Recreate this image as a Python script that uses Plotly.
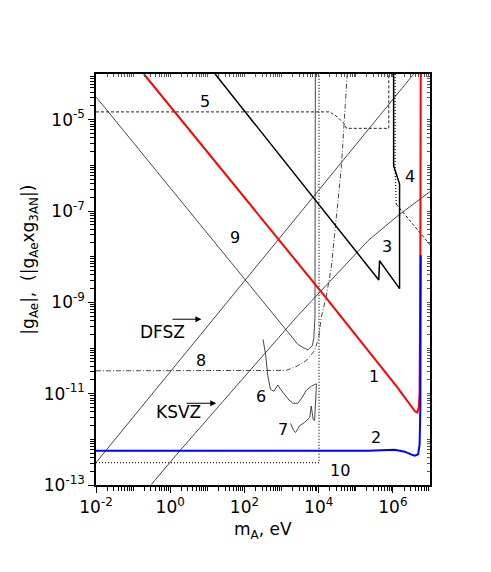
import numpy as np
import plotly.graph_objects as go

# all curve data below are log10 values: log10(m_A / eV) and log10(|g|)

# 1 - red
c1_m = [-0.71, 4.19, 6.09, 6.32, 6.49, 6.60, 6.66, 6.70, 6.72, 6.73, 6.74, 6.75]
c1_g = [-4.0, -8.89, -10.83, -11.08, -11.28, -11.39, -11.41, -11.30, -10.97, -10.21, -8.02, -4.0]
# 2 - blue
c2_m = [-2.0, 5.33, 6.05, 6.32, 6.49, 6.59, 6.68, 6.72, 6.74, 6.75]
c2_g = [-12.25, -12.25, -12.23, -12.27, -12.33, -12.36, -12.33, -12.11, -11.30, -7.97]
# 3 - thick black
c3_m = [1.21, 5.62, 5.64, 6.18, 6.18, 6.02, 6.02]
c3_g = [-4.0, -8.51, -8.09, -8.70, -6.41, -6.01, -4.0]
# 4 - dotted / dashed
c4_m = [6.06, 6.06, 6.09]
c4_g = [-4.0, -6.05, -6.85]
c4b_m = [6.09, 7.02]
c4b_g = [-6.85, -7.76]
# 5 - dashed
c5_m = [-2.0, 4.30, 4.52, 4.70, 4.75, 5.89, 5.89]
c5_g = [-4.83, -4.83, -4.95, -5.10, -5.19, -5.19, -4.0]
# 6
c6_m = [2.50, 2.57, 2.63, 2.70, 2.79, 2.86, 2.90, 2.97, 3.11, 3.20, 3.31, 3.44, 3.56, 3.67, 3.80, 3.94]
c6_g = [-9.81, -10.14, -10.61, -10.90, -10.95, -10.86, -10.81, -10.90, -11.05, -11.14, -11.21,
        -11.21, -11.08, -10.92, -10.84, -10.78]
# 7
c7_m = [3.24, 3.33, 3.38, 3.49, 3.62, 3.76, 3.80, 3.85, 3.89, 3.94]
c7_g = [-11.65, -11.81, -11.85, -11.70, -11.63, -11.52, -11.27, -11.56, -11.59, -10.79]
# 8 - dash-dot
c8_m = [-2.0, 3.12, 3.39, 3.66, 3.89, 4.00, 4.07, 4.20, 4.34, 4.47, 4.61, 4.77]
c8_g = [-10.50, -10.49, -10.41, -10.28, -10.06, -9.77, -9.33, -8.89, -8.24, -7.14, -6.05, -4.0]
# 9
c9_m = [-1.99, 3.13, 3.44, 3.58, 3.71, 3.83, 3.87, 3.90, 3.91]
c9_g = [-4.51, -9.62, -9.92, -9.99, -10.04, -9.95, -9.77, -9.33, -4.0]
# 10 - dotted
c10_m = [-2.0, 4.01, 4.01]
c10_g = [-12.51, -12.51, -4.0]
# DFSZ and KSVZ model lines
dfsz_m = [-2.0, 6.56]
dfsz_g = [-12.51, -4.0]
ksvz_m = [-0.51, 0.26, 3.44, 5.33, 6.14, 7.01]
ksvz_g = [-12.99, -12.25, -9.29, -7.65, -7.10, -6.57]

# curve number labels: text, log m, log g
labels = ["1", "2", "3", "4", "5", "6", "7", "8", "9", "10"]
label_m = [5.49, 5.55, 5.85, 6.47, 0.95, 2.45, 3.04, 0.84, 1.74, 4.57]
label_g = [-10.62, -11.97, -7.78, -6.24, -4.61, -11.06, -11.78, -10.27, -7.58, -12.68]

x_ticks = [-2, 0, 2, 4, 6]
y_ticks = [-13, -11, -9, -7, -5]

FONT = "DejaVu Sans, Verdana, sans-serif"

fig = go.Figure()


def add_curve(m, g, color="black", width=1.0, dash="solid"):
    fig.add_trace(
        go.Scatter(
            x=10 ** np.array(m, dtype=float),
            y=10 ** np.array(g, dtype=float),
            mode="lines",
            line=dict(color=color, width=width, dash=dash),
            showlegend=False,
            hoverinfo="skip",
        )
    )


thin = "#333333"
add_curve(c10_m, c10_g, "#222222", 1.3, "1px,2px")
add_curve(dfsz_m, dfsz_g, thin, 0.9)
add_curve(ksvz_m, ksvz_g, thin, 0.9)
add_curve(c9_m, c9_g, thin, 0.9)
add_curve(c8_m, c8_g, thin, 0.9, "5px,2px,1px,2px")
add_curve(c6_m, c6_g, thin, 0.9)
add_curve(c7_m, c7_g, thin, 0.9)
add_curve(c5_m, c5_g, "#222222", 1.0, "3px,2px")
add_curve(c4_m, c4_g, "#222222", 1.3, "1px,2px")
add_curve(c4b_m, c4b_g, "#222222", 1.0, "3px,2px")
add_curve(c3_m, c3_g, "black", 1.5)
add_curve(c1_m, c1_g, "#ff0000", 2.0)
add_curve(c2_m, c2_g, "#0000ff", 2.0)

# empty trace so the mirrored (top / right) tick axes get drawn
fig.add_trace(go.Scatter(x=[], y=[], xaxis="x2", yaxis="y2", showlegend=False, hoverinfo="skip"))

annotations = []
for t, xm, yg in zip(labels, label_m, label_g):
    annotations.append(dict(x=xm, y=yg, xref="x", yref="y", text=t, showarrow=False,
                            font=dict(family=FONT, size=16, color="black")))

# DFSZ / KSVZ with arrows
annotations.append(dict(x=-0.2, y=-9.66, xref="x", yref="y", text="DFSZ", showarrow=False,
                        font=dict(family=FONT, size=17, color="black")))
annotations.append(dict(x=0.84, y=-9.37, ax=0.02, ay=-9.37, xref="x", yref="y",
                        axref="x", ayref="y", text="", showarrow=True, arrowhead=2,
                        arrowsize=1.2, arrowwidth=1, arrowcolor="black"))
annotations.append(dict(x=0.23, y=-11.41, xref="x", yref="y", text="KSVZ", showarrow=False,
                        font=dict(family=FONT, size=17, color="black")))
annotations.append(dict(x=1.24, y=-11.21, ax=0.4, ay=-11.21, xref="x", yref="y",
                        axref="x", ayref="y", text="", showarrow=True, arrowhead=2,
                        arrowsize=1.2, arrowwidth=1, arrowcolor="black"))

# axis titles
annotations.append(dict(x=0.5, y=-0.11, xref="paper", yref="paper", text="m<sub>A</sub>, eV",
                        showarrow=False, xanchor="center", yanchor="middle",
                        font=dict(family=FONT, size=17, color="black")))
annotations.append(dict(x=-0.198, y=0.548, xref="paper", yref="paper",
                        text="|g<sub>Ae</sub>|,  (|g<sub>Ae</sub>xg<sub>3AN</sub>|)",
                        textangle=-90, showarrow=False, xanchor="center", yanchor="middle",
                        font=dict(family=FONT, size=17, color="black")))


def minor_vals(lo, hi):
    return [d * 10.0 ** k for k in range(lo, hi) for d in range(1, 10)]


axis_common = dict(
    type="log",
    showgrid=False,
    zeroline=False,
    showline=True,
    linecolor="black",
    linewidth=1.5,
    mirror=True,
    ticks="outside",
    ticklen=6,
    tickwidth=1.2,
    tickcolor="black",
    tickfont=dict(family=FONT, size=17, color="black"),
)

fig.update_layout(
    xaxis=dict(
        range=[-2, 7],
        tickmode="array",
        tickvals=[10.0 ** v for v in x_ticks],
        ticktext=[f"10<sup>{v}</sup>" for v in x_ticks],
        minor=dict(tickmode="array", tickvals=minor_vals(-2, 7), ticks="outside",
                   ticklen=4, tickwidth=1, tickcolor="black"),
        **axis_common,
    ),
    yaxis=dict(
        range=[-13, -4],
        tickmode="array",
        tickvals=[10.0 ** v for v in y_ticks],
        ticktext=[f"10<sup>{v}</sup>" for v in y_ticks],
        minor=dict(tickmode="array", tickvals=minor_vals(-13, -4), ticks="outside",
                   ticklen=4, tickwidth=1, tickcolor="black"),
        **axis_common,
    ),
    # inner ticks on the top and right frame
    xaxis2=dict(
        type="log", range=[-2, 7], overlaying="x", side="top", anchor="y",
        showgrid=False, zeroline=False, showline=False, showticklabels=False,
        tickmode="array", tickvals=minor_vals(-2, 7),
        ticks="inside", ticklen=3, tickwidth=0.8, tickcolor="#555555",
    ),
    yaxis2=dict(
        type="log", range=[-13, -4], overlaying="y", side="right", anchor="x",
        showgrid=False, zeroline=False, showline=False, showticklabels=False,
        tickmode="array", tickvals=minor_vals(-13, -4),
        ticks="inside", ticklen=3, tickwidth=0.8, tickcolor="#555555",
    ),
    width=491,
    height=572,
    margin=dict(l=88, r=69, t=66, b=95),
    paper_bgcolor="white",
    plot_bgcolor="white",
    font=dict(family=FONT, color="black"),
    annotations=annotations,
    showlegend=False,
)

fig.write_html("out.html")
